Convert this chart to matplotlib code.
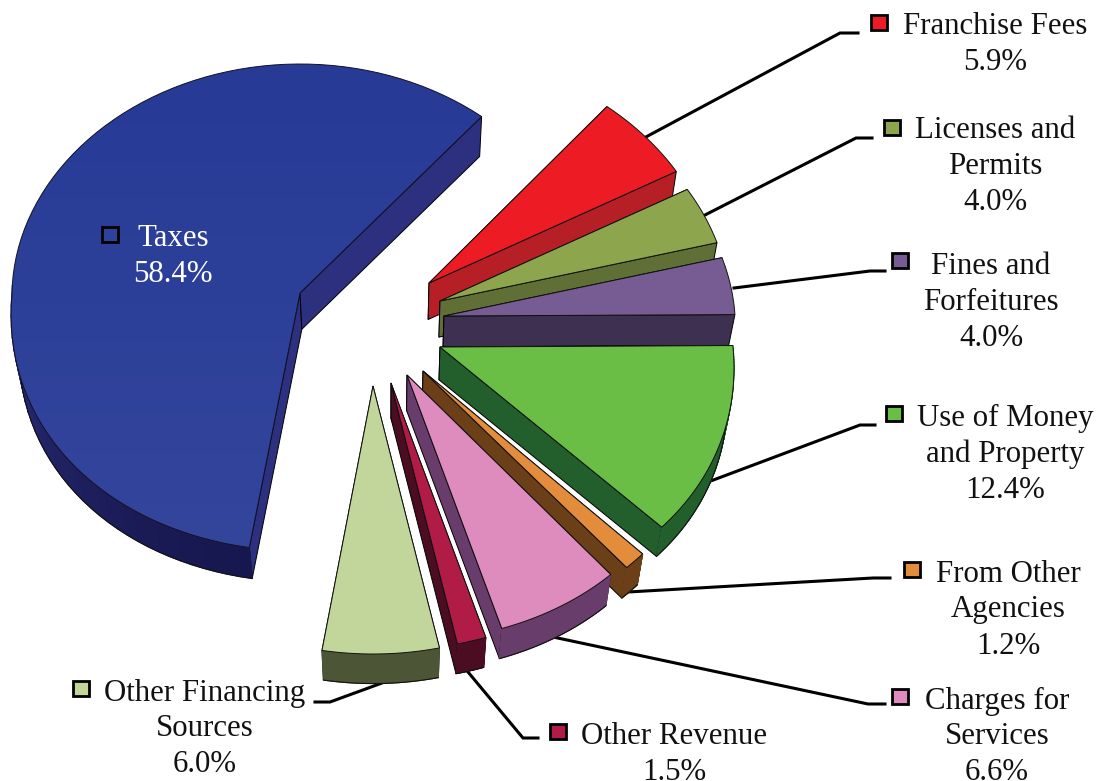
import matplotlib
matplotlib.use('Agg')
import matplotlib.pyplot as plt
import numpy as np
from matplotlib.colors import to_rgb, LinearSegmentedColormap
from matplotlib.patches import Polygon, Rectangle

# clockwise from the Franchise Fees edge
categories = ['Franchise Fees', 'Licenses and\nPermits', 'Fines and\nForfeitures',
              'Use of Money\nand Property', 'From Other\nAgencies', 'Charges for\nServices',
              'Other Revenue', 'Other Financing\nSources', 'Taxes']
values = [5.9, 4.0, 4.0, 12.4, 1.2, 6.6, 1.5, 6.0, 58.4]

top_colors = ['#ed1c24', '#8da64e', '#775c93', '#6abd45', '#e38d3c', '#dd8cbd', '#b01c46', '#c2d59b', '#2f429b']
side_colors = ['#b71f26', '#5f6f36', '#3e3050', '#235f2d', '#6b4018', '#693d6b', '#4a0d22', '#4c5636', '#2c307f']
rim_colors = ['#b71f26', '#5f6f36', '#3e3050', '#235f2d', '#6b4018', '#693d6b', '#4a0d22', '#4c5636', '#17174f']

# layout in pixels of the picture
apex_x = [429, 440, 444, 440, 423, 407, 391, 373, 300]
apex_y = [283, 301, 316, 347, 371, 375, 383, 386, 293]
rx_base = [290, 290, 291, 293, 290, 290, 290, 290, 288]
ry_down = [229, 229, 229, 258, 262, 266, 267, 268, 258]
rx_up_k = [14, 14, 14, 14, 14, 14, 14, 14, 4]
depth_t = [0.0209, 0.0209, 0.018, 0.0195, 0.0209, 0.0215, 0.0215, 0.0215, 0.0209]
draw_order = [8, 0, 1, 2, 4, 3, 5, 6, 7]

START_ANGLE = 50.4
RY_UP = 229
VANISH = np.array([388.0, 2028.0])

key_pos = [(879, 22), (892, 127), (900, 260), (894, 413), (912, 569), (900, 696), (558, 731), (81, 688), (110, 234)]
text_pos = [(995, 27), (995, 131), (991, 266), (1005, 418), (1008, 574), (997, 701), (674, 737), (205, 693), (173, 238)]
leaders = [
    [(644, 138), (840, 33), (858, 33)],
    [(705, 215), (856, 138), (872, 138)],
    [(734, 288), (870, 271), (885, 271)],
    [(708, 482), (860, 425), (875, 425)],
    [(628, 592), (873, 578), (890, 578)],
    [(553, 637), (868, 704), (885, 704)],
    [(468, 672), (523, 738), (538, 738)],
    [(382, 683), (330, 702), (315, 702)],
]
LINE_GAP = 36


def outer_point(i, deg):
    a = np.radians(deg)
    s, c = np.sin(a), np.cos(a)
    if s >= 0:
        rx = rx_base[i] - rx_up_k[i] * s
        ry = RY_UP
    else:
        rx = rx_base[i] - 24 * s
        ry = ry_down[i]
    return np.array([apex_x[i] + rx * c, apex_y[i] - ry * s])


def drop(p, i):
    return p + depth_t[i] * (VANISH - p)


def mix(c1, c2, f):
    a, b = np.array(to_rgb(c1)), np.array(to_rgb(c2))
    return tuple(a + (b - a) * f)


fig = plt.figure(figsize=(10.99, 7.81), dpi=100)
ax = fig.add_axes([0, 0, 1, 1])

cum = np.cumsum([0] + values)
for order, i in enumerate(draw_order):
    z = 1 + order
    a0 = START_ANGLE - cum[i] * 3.6
    a1 = START_ANGLE - cum[i + 1] * 3.6
    angles = np.linspace(a0, a1, 90)
    arc = np.array([outer_point(i, d) for d in angles])
    low = np.array([drop(p, i) for p in arc])
    apex = np.array([apex_x[i], apex_y[i]], dtype=float)
    apex_low = drop(apex, i)

    # both cut faces go under the rim, a hidden one must not show through it
    for end in (arc[0], arc[-1]):
        ax.add_patch(Polygon([apex, end, drop(end, i), apex_low], closed=True, fc=side_colors[i],
                             ec='black', lw=0.7, zorder=z))

    # rim only faces the viewer in the lower half
    front = np.sin(np.radians(angles)) < 0
    for k in range(len(arc) - 1):
        if not front[k]:
            continue
        f = min(1, -np.sin(np.radians(angles[k])))
        col = mix(side_colors[i], rim_colors[i], f)
        ax.add_patch(Polygon([arc[k], arc[k + 1], low[k + 1], low[k]], closed=True, fc=col, ec=col,
                             lw=0.8, zorder=z + 0.2))
    ax.plot(low[front, 0], low[front, 1], color='#111111', lw=0.8, zorder=z + 0.3)

    top = np.vstack([apex, arc])
    if categories[i] == 'Taxes':
        patch = Polygon(top, closed=True, fc='none', ec='#111122', lw=0.7, zorder=z + 0.5)
        ax.add_patch(patch)
        cmap = LinearSegmentedColormap.from_list('taxes', ['#263a96', '#2d4099', '#34459c'])
        im = ax.imshow(np.linspace(0, 1, 100).reshape(-1, 1), cmap=cmap, aspect='auto',
                       extent=(0, 500, 560, 50), zorder=z + 0.4)
        im.set_clip_path(patch)
    else:
        ax.add_patch(Polygon(top, closed=True, fc=top_colors[i], ec='#111111', lw=0.7, zorder=z + 0.5))

for pts in leaders:
    xs, ys = zip(*pts)
    ax.plot(xs, ys, color='black', lw=2.2, zorder=0.5, solid_joinstyle='miter')

for i, cat in enumerate(categories):
    kx, ky = key_pos[i]
    ax.add_patch(Rectangle((kx - 8, ky - 7.5), 16, 15, fc=top_colors[i], ec='black', lw=2.0, zorder=20))
    tx, ty = text_pos[i]
    lines = cat.split('\n') + ['%.1f%%' % values[i]]
    for n, line in enumerate(lines):
        ax.text(tx, ty + n * LINE_GAP, line, ha='center', va='center', fontsize=22.2,
                family='Liberation Serif', color='white' if cat == 'Taxes' else '#111111', zorder=21)

ax.set_xlim(0, 1099)
ax.set_ylim(781, 0)
ax.axis('off')
fig.savefig('out.png', dpi=100)
